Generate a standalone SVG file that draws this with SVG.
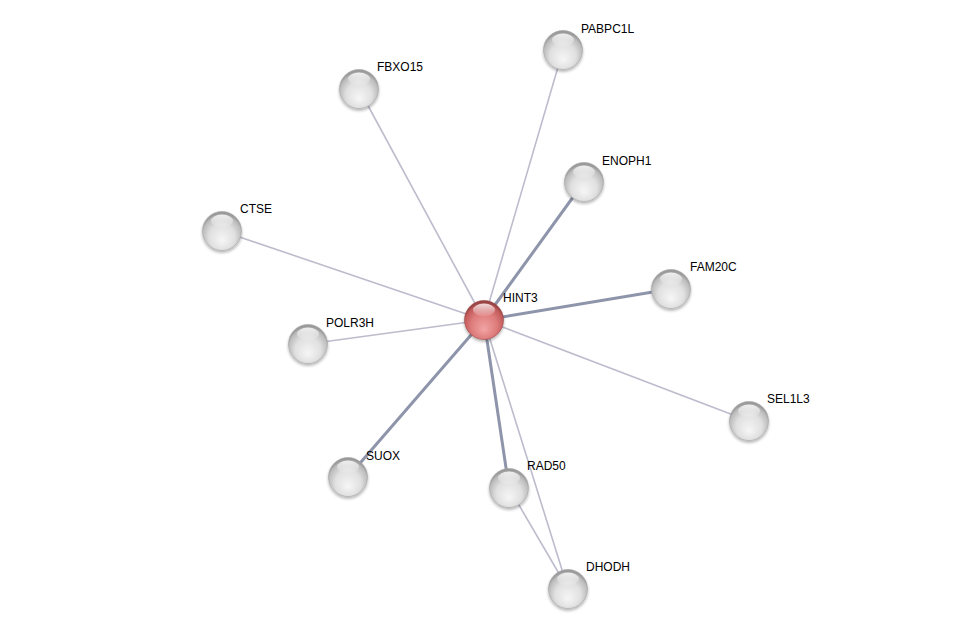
<svg xmlns="http://www.w3.org/2000/svg" width="975" height="634" viewBox="0 0 975 634">
<defs>
<radialGradient id="gg" cx="0.5" cy="0.6" r="0.55" fx="0.5" fy="0.75">
<stop offset="0" stop-color="#f6f6f6"/>
<stop offset="0.6" stop-color="#e0e0e0"/>
<stop offset="0.9" stop-color="#bcbcbc"/>
<stop offset="1" stop-color="#9a9a9a"/>
</radialGradient>
<radialGradient id="rg" cx="0.5" cy="0.6" r="0.55" fx="0.5" fy="0.75">
<stop offset="0" stop-color="#f2a4a4"/>
<stop offset="0.6" stop-color="#de7c7c"/>
<stop offset="0.9" stop-color="#c45c5c"/>
<stop offset="1" stop-color="#9a4444"/>
</radialGradient>
<linearGradient id="hl" x1="0" y1="0" x2="0" y2="1">
<stop offset="0" stop-color="#fff" stop-opacity="0.8"/>
<stop offset="1" stop-color="#fff" stop-opacity="0.05"/>
</linearGradient>
<filter id="sh" x="-30%" y="-30%" width="160%" height="170%">
<feGaussianBlur in="SourceAlpha" stdDeviation="1.5"/>
<feOffset dy="2" result="b"/>
<feComponentTransfer><feFuncA type="linear" slope="0.3"/></feComponentTransfer>
<feMerge><feMergeNode/><feMergeNode in="SourceGraphic"/></feMerge>
</filter>
<g id="ball"><circle r="19.5" fill="url(#gg)" stroke="#a4a4a4" stroke-width="0.6" filter="url(#sh)"/><ellipse cy="-10" rx="11" ry="6.5" fill="url(#hl)"/></g>
</defs>
<style>
.thin{stroke:#bcbccd;stroke-width:1.6;fill:none}
.thick{stroke:#8e94aa;stroke-width:3;fill:none}
text{font-family:"Liberation Sans",Arial,sans-serif;font-size:12px;fill:#000}
</style>
<rect width="975" height="634" fill="#fff"/>
<g id="edges">
<line class="thin" x1="484" y1="320" x2="563" y2="50"/>
<line class="thin" x1="484" y1="320" x2="359" y2="89"/>
<line class="thin" x1="484" y1="320" x2="222" y2="231"/>
<line class="thin" x1="484" y1="320" x2="308" y2="344"/>
<line class="thin" x1="484" y1="320" x2="749" y2="421"/>
<line class="thin" x1="484" y1="320" x2="568" y2="589"/>
<line class="thin" x1="509" y1="488" x2="568" y2="589"/>
<line class="thick" x1="484" y1="320" x2="584" y2="182"/>
<line class="thick" x1="484" y1="320" x2="671" y2="289"/>
<line class="thick" x1="484" y1="320" x2="348" y2="477"/>
<line class="thick" x1="484" y1="320" x2="509" y2="488"/>
</g>
<g id="PABPC1L"><use href="#ball" x="563" y="50"/><text x="581" y="33">PABPC1L</text></g>
<g id="FBXO15"><use href="#ball" x="359" y="89"/><text x="377" y="71">FBXO15</text></g>
<g id="ENOPH1"><use href="#ball" x="584" y="182"/><text x="602" y="165">ENOPH1</text></g>
<g id="CTSE"><use href="#ball" x="222" y="231"/><text x="240" y="213">CTSE</text></g>
<g id="FAM20C"><use href="#ball" x="671" y="289"/><text x="690" y="271">FAM20C</text></g>
<g id="POLR3H"><use href="#ball" x="308" y="344"/><text x="326" y="327">POLR3H</text></g>
<g id="SEL1L3"><use href="#ball" x="749" y="421"/><text x="767" y="403">SEL1L3</text></g>
<g id="SUOX"><use href="#ball" x="348" y="477"/><text x="366" y="460">SUOX</text></g>
<g id="RAD50"><use href="#ball" x="509" y="488"/><text x="527" y="470">RAD50</text></g>
<g id="DHODH"><use href="#ball" x="568" y="589"/><text x="586" y="571">DHODH</text></g>
<g id="HINT3"><circle cx="484" cy="320" r="19.5" fill="url(#rg)" stroke="#9a4a4a" stroke-width="0.6" filter="url(#sh)"/><ellipse cx="484" cy="310" rx="11" ry="6.5" fill="url(#hl)"/><text x="503" y="302">HINT3</text></g>
</svg>
